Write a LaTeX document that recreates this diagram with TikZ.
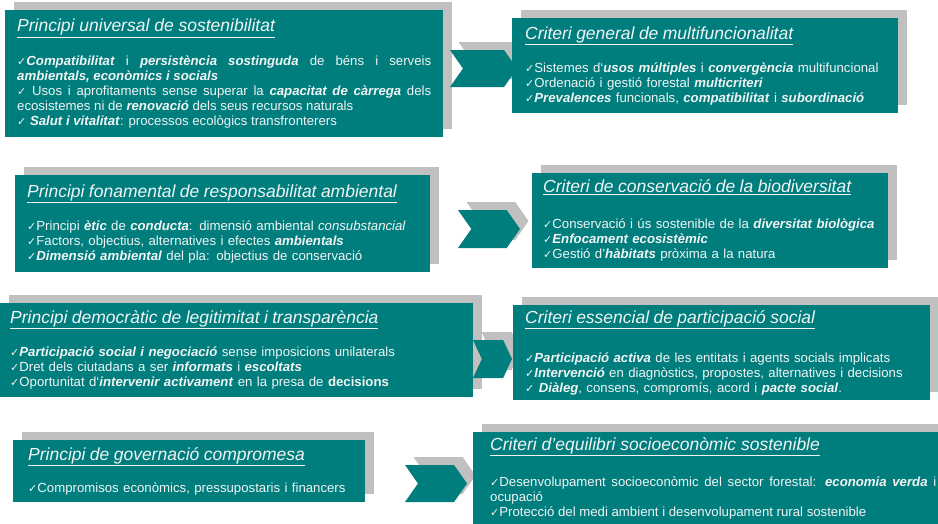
\documentclass[tikz,border=0pt]{standalone}
\usepackage{fontspec}
\setmainfont{Liberation Sans}
\newfontfamily\symfont{DejaVu Sans}
\usetikzlibrary{positioning, shapes, shapes.symbols, shadows}
\definecolor{tealbox}{RGB}{0,126,126}
\definecolor{greyback}{RGB}{192,192,192}
\definecolor{paletext}{RGB}{242,244,244}
\newcommand{\chk}{{\symfont\fontsize{11}{11}\selectfont ✓}}
\newcommand{\bi}[1]{\textbf{\textit{#1}}}
\newcommand{\heading}[1]{{\fontsize{17.5}{20}\selectfont\textit{\underline{#1}}}}

\begin{document}
\begin{tikzpicture}[x=1pt, y=-1pt,
    boxshade/.style={drop shadow={shadow xshift=8.5pt, shadow yshift=8pt, fill=greyback, opacity=1}},
    principle/.style={rectangle, fill=tealbox, text=paletext, anchor=north west, inner xsep=12pt, inner ysep=0pt, font=\fontsize{13.2}{15}\selectfont, align=left, boxshade},
    chevron/.style={signal, signal to=east, signal from=west, signal pointer angle=110, fill=tealbox, inner sep=0pt, boxshade}
]
\clip (0,0) rectangle (938,523);
\useasboundingbox (0,0) rectangle (938,523);
\fill[white] (0,0) rectangle (938,523);

% Principles (left column)
\node[principle, align=justify, minimum width=438pt, minimum height=127pt, text width=414pt] (p1) at (5,10) {%
\heading{Principi universal de sostenibilitat}\\[17pt]
\chk\bi{Compatibilitat} i \bi{persistència sostinguda} de béns i serveis\linebreak \bi{ambientals, econòmics i socials}\\
\chk\ Usos i aprofitaments sense superar la \bi{capacitat de càrrega} dels\linebreak ecosistemes ni de \bi{renovació} dels seus recursos naturals\\
\chk\ \bi{Salut i vitalitat}: processos ecològics transfronterers};
\node[principle, minimum width=415pt, minimum height=97pt, text width=391pt] (p2) at (15,175) {%
\heading{Principi fonamental de responsabilitat ambiental}\\[17pt]
\chk Principi \bi{ètic} de \bi{conducta}: dimensió ambiental \textit{consubstancial}\\
\chk Factors, objectius, alternatives i efectes \bi{ambientals}\\
\chk\bi{Dimensió ambiental} del pla: objectius de conservació};
\node[principle, inner xsep=10pt, minimum width=473pt, minimum height=94pt, text width=453pt] (p3) at (0,303) {%
\heading{Principi democràtic de legitimitat i transparència}\\[17pt]
\chk\bi{Participació social i negociació} sense imposicions unilaterals\\
\chk Dret dels ciutadans a ser \bi{informats} i \bi{escoltats}\\
\chk Oportunitat d‘\bi{intervenir activament} en la presa de \textbf{decisions}};
\node[principle, inner xsep=15pt, minimum width=352pt, minimum height=62pt, text width=322pt] (p4) at (13,440) {%
\heading{Principi de governació compromesa}\\[16pt]
\chk Compromisos econòmics, pressupostaris i financers};

% Chevrons
\node[chevron, minimum width=67pt, minimum height=37pt] (a1) at (483.5,68.5) {};
\node[chevron, minimum width=62pt, minimum height=38pt] (a2) at (489,229) {};
\node[chevron, minimum width=39pt, minimum height=38pt, signal pointer angle=130] (a3) at (492.5,359) {};
\node[chevron, minimum width=62pt, minimum height=37pt] (a4) at (436,483.5) {};

% Criteria (right column)
\node[principle, minimum width=386pt, minimum height=95pt, text width=360pt, inner xsep=13pt] (c1) at (512,18) {%
\heading{Criteri general de multifuncionalitat}\\[17pt]
\chk Sistemes d‘\bi{usos múltiples} i \bi{convergència} multifuncional\\
\chk Ordenació i gestió forestal \bi{multicriteri}\\
\chk\bi{Prevalences} funcionals, \bi{compatibilitat} i \bi{subordinació}};
\node[principle, inner xsep=11pt, minimum width=356pt, minimum height=95pt, text width=334pt] (c2) at (532,173) {%
\heading{Criteri de conservació de la biodiversitat}\\[21pt]
\chk Conservació i ús sostenible de la \bi{diversitat biològica}\\
\chk\bi{Enfocament ecosistèmic}\\
\chk Gestió d’\bi{hàbitats} pròxima a la natura};
\node[principle, minimum width=417pt, minimum height=95pt, text width=393pt] (c3) at (513,305) {%
\heading{Criteri essencial de participació social}\\[23pt]
\chk\bi{Participació activa} de les entitats i agents socials implicats\\
\chk\bi{Intervenció} en diagnòstics, propostes, alternatives i decisions\\
\chk\ \bi{Diàleg}, consens, compromís, acord i \bi{pacte social}.};
\node[principle, align=justify, inner xsep=14pt, inner ysep=5pt, minimum width=480pt, text width=446pt, text depth=110pt] (c4) at (473,432) {%
\heading{Criteri d’equilibri socioeconòmic sostenible}\\[20pt]
\chk Desenvolupament socioeconòmic del sector forestal: \bi{economia verda} i\linebreak ocupació\\
\chk Protecció del medi ambient i desenvolupament rural sostenible};
\end{tikzpicture}
\end{document}
